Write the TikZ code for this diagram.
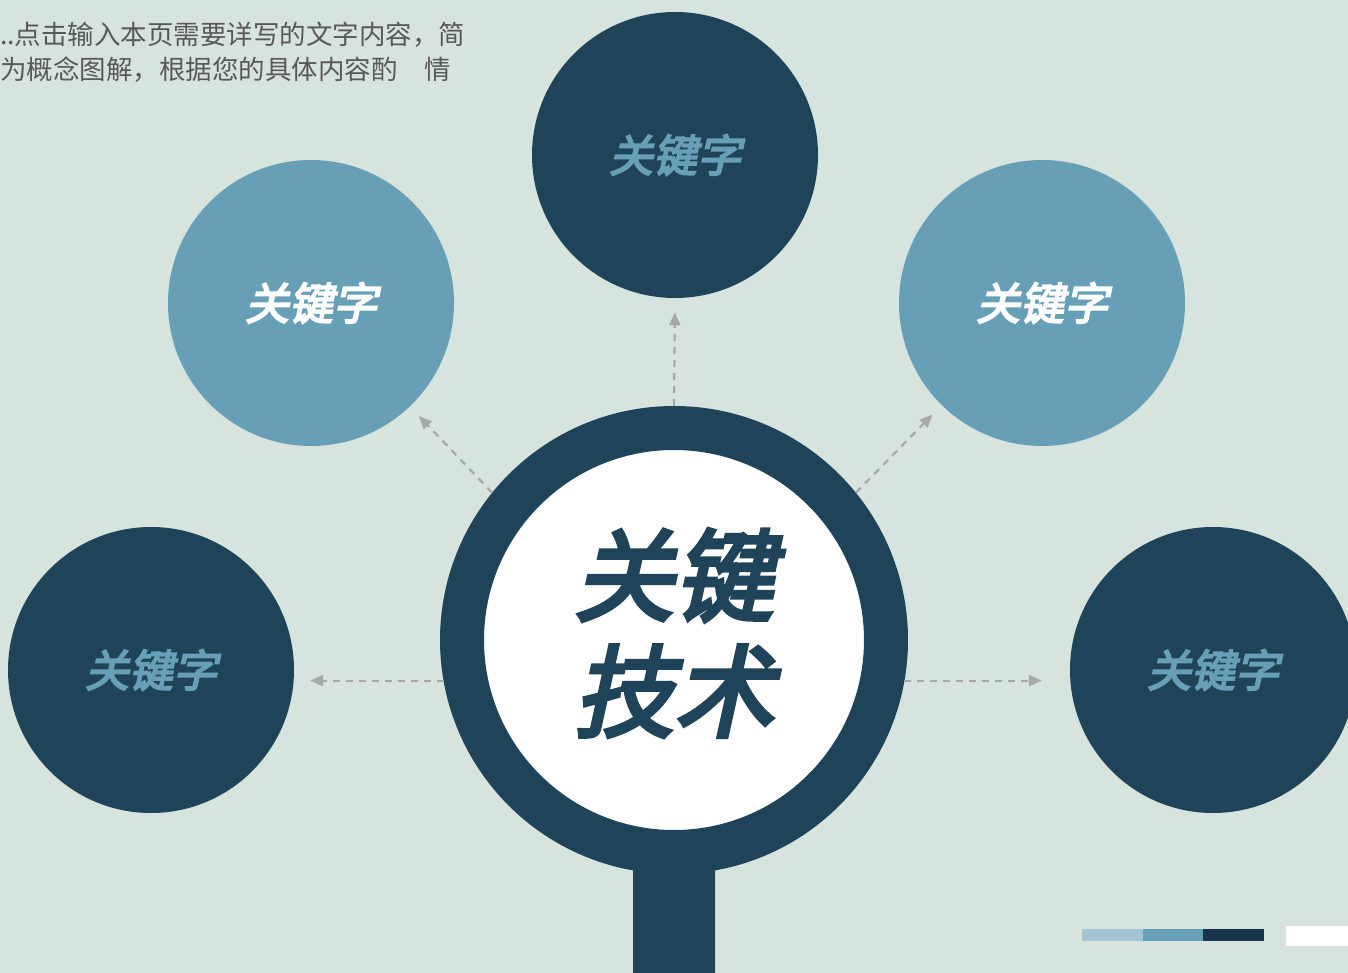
\documentclass[tikz,border=0pt]{standalone}
\usepackage{fontspec}
\usetikzlibrary{arrows,arrows.meta,calc}
\newfontfamily\cjk{Noto Sans CJK SC}
\newfontfamily\cjkbold{Noto Sans CJK SC}[FakeSlant=0.22,FakeBold=4]
\definecolor{bgmint}{RGB}{215,227,221}
\definecolor{navy}{RGB}{31,68,89}
\definecolor{steel}{RGB}{103,160,182}
\definecolor{paleblue}{RGB}{163,197,211}
\definecolor{deepnavy}{RGB}{23,52,74}
\definecolor{ash}{RGB}{168,168,170}
\definecolor{txtgray}{RGB}{89,89,89}
\newcommand\kwfont{\cjkbold\fontsize{44}{44}\selectfont}
\newcommand\hubfont{\cjkbold\fontsize{100}{116}\selectfont}

\begin{document}
\begin{tikzpicture}[x=1pt,y=-1pt,
	kw/.style={circle,minimum size=286pt,inner sep=0pt,font=\kwfont},
	kwdark/.style={kw,fill=navy,text=steel},
	kwlight/.style={kw,fill=steel,text=white},
	arr/.style={-{Triangle[length=13pt,width=11pt]},draw=ash,line width=2.2pt,dash pattern=on 7pt off 6pt}]
			% fond
\useasboundingbox (0,0) rectangle (1348,973);
\fill [bgmint] (0,0) rectangle (1348,973);
\node [anchor=north west,inner sep=0pt,align=left,text=txtgray,font=\cjk\fontsize{26.5}{34.5}\selectfont] (note) at (0,22) {..点击输入本页需要详写的文字内容，简\\为概念图解，根据您的具体内容酌　情};
			% cercles
\node [kwdark] (kwT) at (675,155) {关键字};
\node [kwlight] (kwUL) at (311,303) {关键字};
\node [kwlight] (kwUR) at (1042,303) {关键字};
\node [kwdark] (kwL) at (151,670) {关键字};
\node [kwdark] (kwR) at (1213,670) {关键字};
			% loupe
\fill [navy,rounded corners=14pt] (633,990) -- (633,848) -- (715,848) -- (715,990);
\node [circle,draw=navy,line width=44pt,fill=white,minimum size=424pt,inner sep=0pt,align=center,text=navy,font=\hubfont,text depth=22pt] (hub) at (674,640) {关键\\技术};
			% flèches
\draw [arr,shorten >=14pt] (hub.90) -- (kwT.south);
\draw [arr,shorten >=13pt] (hub.141) -- (kwUL);
\draw [arr,shorten >=13pt] (hub.39) -- (kwUR);
\draw [arr,shorten >=16pt] (hub.190) -- (hub.190 -| kwL.east);
\draw [arr,shorten >=28pt] (hub.350) -- (hub.350 -| kwR.west);
			% barres
\fill [paleblue] (1082,929) rectangle (1143,941);
\fill [steel] (1143,929) rectangle (1203,941);
\fill [deepnavy] (1203,929) rectangle (1264,941);
\fill [white] (1286,926) rectangle (1348,946);
\end{tikzpicture}
\end{document}
